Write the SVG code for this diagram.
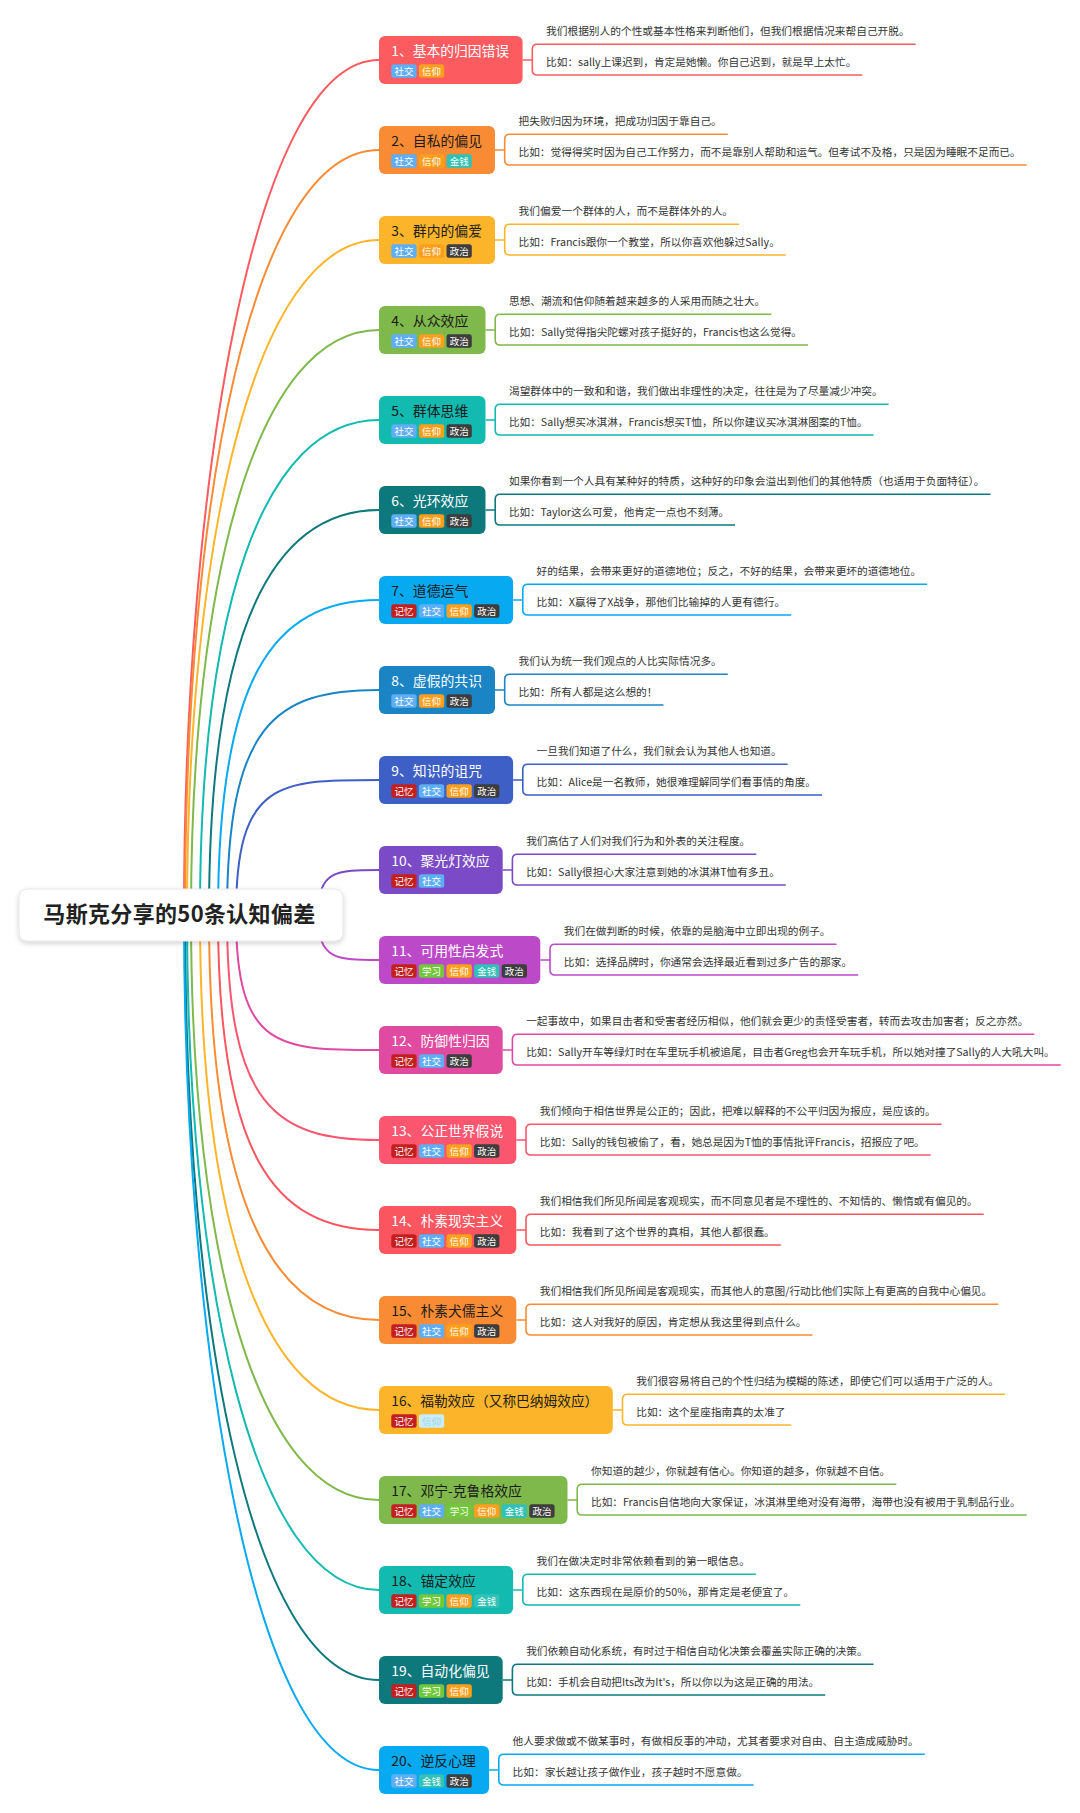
<svg xmlns="http://www.w3.org/2000/svg" width="1080" height="1813" viewBox="0 0 1080 1813">
<defs>
<filter id="sh" x="-10%" y="-30%" width="120%" height="180%">
<feDropShadow dx="0" dy="2" stdDeviation="2.5" flood-color="#000" flood-opacity="0.18"/>
</filter>
<style>
text{font-family:"Noto Sans CJK SC","Noto Sans",sans-serif;}
.t{font-size:13.6px;fill:#fff;}
.k{fill:#1b1b1b;}
.d{font-size:10.5px;fill:#333;}
.g{font-size:9.5px;fill:#fff;text-anchor:middle;}
.cv{fill:none;stroke-width:2;}
.br{fill:none;stroke-width:1.6;}
.mem{fill:#c41f1f;}.soc{fill:#5eaef5;}.bel{fill:#fd9f1c;}.mon{fill:#31c1b6;}.pol{fill:#3d3d3d;}.lea{fill:#72c73b;}.pal{fill:#c9edf7;}
</style>
</defs>
<rect width="1080" height="1813" fill="#fff"/>
<g id="connectors">
<path class="cv" stroke="#fc5b60" d="M184,915 C184,487 253,60 379,60"/>
<path class="cv" stroke="#f98b34" d="M185,915 C185,494 253,150 379,150"/>
<path class="cv" stroke="#fcb52b" d="M187,915 C187,544 254,240 379,240"/>
<path class="cv" stroke="#7fb84b" d="M191,915 C191,576 257,330 379,330"/>
<path class="cv" stroke="#12bab0" d="M200,915 C200,608 263,420 379,420"/>
<path class="cv" stroke="#0e797d" d="M209,915 C209,640 268,510 379,510"/>
<path class="cv" stroke="#07a9f1" d="M218,915 C218,679 272,600 379,600"/>
<path class="cv" stroke="#1a84c5" d="M227,915 C227,724 275,690 379,690"/>
<path class="cv" stroke="#3e5fc5" d="M236,915 C236,780 279,780 379,780"/>
<path class="cv" stroke="#7b4ac6" d="M318,915 C318,870 336.3,870 379,870"/>
<path class="cv" stroke="#bc4ac8" d="M318,915 C318,960 336.3,960 379,960"/>
<path class="cv" stroke="#e04aa0" d="M236,915 C236,1050 279,1050 379,1050"/>
<path class="cv" stroke="#fb566f" d="M227,915 C227,1106 275,1140 379,1140"/>
<path class="cv" stroke="#fb5560" d="M218,915 C218,1151 272,1230 379,1230"/>
<path class="cv" stroke="#f98b34" d="M209,915 C209,1190 268,1320 379,1320"/>
<path class="cv" stroke="#fcb52b" d="M200,915 C200,1222 263,1410 379,1410"/>
<path class="cv" stroke="#7fb84b" d="M191,915 C191,1254 257,1500 379,1500"/>
<path class="cv" stroke="#12bab0" d="M187,915 C187,1286 254,1590 379,1590"/>
<path class="cv" stroke="#0e797d" d="M185,915 C185,1336 253,1680 379,1680"/>
<path class="cv" stroke="#07a9f1" d="M184,915 C184,1343 253,1770 379,1770"/>

<path class="br" stroke="#fc5b60" d="M522.6,60 H532.3 M915.7,44.3 H537.3 Q532.3,44.3 532.3,49.3 V70 Q532.3,75 537.3,75 H862.3"/>
<path class="br" stroke="#f98b34" d="M495,150 H504.7 M727.8,134.3 H509.7 Q504.7,134.3 504.7,139.3 V160 Q504.7,165 509.7,165 H1026.7"/>
<path class="br" stroke="#fcb52b" d="M495,240 H504.7 M739.1,224.3 H509.7 Q504.7,224.3 504.7,229.3 V250 Q504.7,255 509.7,255 H785.8"/>
<path class="br" stroke="#7fb84b" d="M485.5,330 H495.2 M771.3,314.3 H500.2 Q495.2,314.3 495.2,319.3 V340 Q495.2,345 500.2,345 H808"/>
<path class="br" stroke="#12bab0" d="M485.5,420 H495.2 M888.6,404.3 H500.2 Q495.2,404.3 495.2,409.3 V430 Q495.2,435 500.2,435 H873.6"/>
<path class="br" stroke="#0e797d" d="M485.5,510 H495.2 M990.5,494.3 H500.2 Q495.2,494.3 495.2,499.3 V520 Q495.2,525 500.2,525 H735"/>
<path class="br" stroke="#07a9f1" d="M513.1,600 H522.8 M927.1,584.3 H527.8 Q522.8,584.3 522.8,589.3 V610 Q522.8,615 527.8,615 H791.2"/>
<path class="br" stroke="#1a84c5" d="M495,690 H504.7 M727.8,674.3 H509.7 Q504.7,674.3 504.7,679.3 V700 Q504.7,705 509.7,705 H663.5"/>
<path class="br" stroke="#3e5fc5" d="M513.1,780 H522.8 M787.6,764.3 H527.8 Q522.8,764.3 522.8,769.3 V790 Q522.8,795 527.8,795 H822"/>
<path class="br" stroke="#7b4ac6" d="M502.7,870 H512.4 M756.3,854.3 H517.4 Q512.4,854.3 512.4,859.3 V880 Q512.4,885 517.4,885 H785.8"/>
<path class="br" stroke="#bc4ac8" d="M540.3,960 H550 M836.5,944.3 H555 Q550,944.3 550,949.3 V970 Q550,975 555,975 H858.2"/>
<path class="br" stroke="#e04aa0" d="M502.7,1050 H512.4 M1034.4,1034.3 H517.4 Q512.4,1034.3 512.4,1039.3 V1060 Q512.4,1065 517.4,1065 H1060.7"/>
<path class="br" stroke="#fb566f" d="M516.3,1140 H526 M941.6,1124.3 H531 Q526,1124.3 526,1129.3 V1150 Q526,1155 531,1155 H930.7"/>
<path class="br" stroke="#fb5560" d="M516.3,1230 H526 M983.7,1214.3 H531 Q526,1214.3 526,1219.3 V1240 Q526,1245 531,1245 H780.8"/>
<path class="br" stroke="#f98b34" d="M516.3,1320 H526 M998.2,1304.3 H531 Q526,1304.3 526,1309.3 V1330 Q526,1335 531,1335 H812.5"/>
<path class="br" stroke="#fcb52b" d="M612.8,1410 H622.5 M1005,1394.3 H627.5 Q622.5,1394.3 622.5,1399.3 V1420 Q622.5,1425 627.5,1425 H791.2"/>
<path class="br" stroke="#7fb84b" d="M567.5,1500 H577.2 M896.3,1484.3 H582.2 Q577.2,1484.3 577.2,1489.3 V1510 Q577.2,1515 582.2,1515 H1026.7"/>
<path class="br" stroke="#12bab0" d="M513.1,1590 H522.8 M755.9,1574.3 H527.8 Q522.8,1574.3 522.8,1579.3 V1600 Q522.8,1605 527.8,1605 H800.3"/>
<path class="br" stroke="#0e797d" d="M502.7,1680 H512.4 M873.6,1664.3 H517.4 Q512.4,1664.3 512.4,1669.3 V1690 Q512.4,1695 517.4,1695 H825.2"/>
<path class="br" stroke="#07a9f1" d="M489.1,1770 H498.8 M924.8,1754.3 H503.8 Q498.8,1754.3 498.8,1759.3 V1780 Q498.8,1785 503.8,1785 H753.6"/>
</g>

<g id="root">
<rect x="19" y="889" width="324" height="52" rx="8" fill="#fff" stroke="#e6e6e6" stroke-width="1" filter="url(#sh)"/>
<text x="43.3" y="922" font-size="22" font-weight="bold" fill="#222" textLength="272" lengthAdjust="spacing">马斯克分享的50条认知偏差</text>
</g>

<g id="n1">
<rect x="379" y="36" width="143.6" height="48" rx="6" fill="#fc5b60"/>
<text class="t" x="391.3" y="55.7" textLength="117.8" lengthAdjust="spacingAndGlyphs">1、基本的归因错误</text>
<rect class="soc" x="391.3" y="64.3" width="25.3" height="13.4" rx="2.5"/><text class="g" x="403.95" y="74.8" textLength="19" lengthAdjust="spacingAndGlyphs">社交</text>
<rect class="bel" x="418.9" y="64.3" width="25.3" height="13.4" rx="2.5"/><text class="g" x="431.55" y="74.8" textLength="19" lengthAdjust="spacingAndGlyphs">信仰</text>
<text class="d" x="546.1" y="35" textLength="363.6" lengthAdjust="spacingAndGlyphs">我们根据别人的个性或基本性格来判断他们，但我们根据情况来帮自己开脱。</text>
<text class="d" x="546.1" y="66.2" textLength="310.2" lengthAdjust="spacingAndGlyphs">比如：sally上课迟到，肯定是她懒。你自己迟到，就是早上太忙。</text>
</g>

<g id="n2">
<rect x="379" y="126" width="116" height="48" rx="6" fill="#f98b34"/>
<text class="t k" x="391.3" y="145.7" textLength="90.7" lengthAdjust="spacingAndGlyphs">2、自私的偏见</text>
<rect class="soc" x="391.3" y="154.3" width="25.3" height="13.4" rx="2.5"/><text class="g" x="403.95" y="164.8" textLength="19" lengthAdjust="spacingAndGlyphs">社交</text>
<rect class="bel" x="418.9" y="154.3" width="25.3" height="13.4" rx="2.5"/><text class="g" x="431.55" y="164.8" textLength="19" lengthAdjust="spacingAndGlyphs">信仰</text>
<rect class="mon" x="446.5" y="154.3" width="25.3" height="13.4" rx="2.5"/><text class="g" x="459.15" y="164.8" textLength="19" lengthAdjust="spacingAndGlyphs">金钱</text>
<text class="d" x="518.5" y="125" textLength="203.3" lengthAdjust="spacingAndGlyphs">把失败归因为环境，把成功归因于靠自己。</text>
<text class="d" x="518.5" y="156.2" textLength="502.2" lengthAdjust="spacingAndGlyphs">比如：觉得得奖时因为自己工作努力，而不是靠别人帮助和运气。但考试不及格，只是因为睡眠不足而已。</text>
</g>

<g id="n3">
<rect x="379" y="216" width="116" height="48" rx="6" fill="#fcb52b"/>
<text class="t k" x="391.3" y="235.7" textLength="90.7" lengthAdjust="spacingAndGlyphs">3、群内的偏爱</text>
<rect class="soc" x="391.3" y="244.3" width="25.3" height="13.4" rx="2.5"/><text class="g" x="403.95" y="254.8" textLength="19" lengthAdjust="spacingAndGlyphs">社交</text>
<rect class="bel" x="418.9" y="244.3" width="25.3" height="13.4" rx="2.5"/><text class="g" x="431.55" y="254.8" textLength="19" lengthAdjust="spacingAndGlyphs">信仰</text>
<rect class="pol" x="446.5" y="244.3" width="25.3" height="13.4" rx="2.5"/><text class="g" x="459.15" y="254.8" textLength="19" lengthAdjust="spacingAndGlyphs">政治</text>
<text class="d" x="518.5" y="215" textLength="214.6" lengthAdjust="spacingAndGlyphs">我们偏爱一个群体的人，而不是群体外的人。</text>
<text class="d" x="518.5" y="246.2" textLength="261.3" lengthAdjust="spacingAndGlyphs">比如：Francis跟你一个教堂，所以你喜欢他躲过Sally。</text>
</g>

<g id="n4">
<rect x="379" y="306" width="106.5" height="48" rx="6" fill="#7fb84b"/>
<text class="t k" x="391.3" y="325.7" textLength="77" lengthAdjust="spacingAndGlyphs">4、从众效应</text>
<rect class="soc" x="391.3" y="334.3" width="25.3" height="13.4" rx="2.5"/><text class="g" x="403.95" y="344.8" textLength="19" lengthAdjust="spacingAndGlyphs">社交</text>
<rect class="bel" x="418.9" y="334.3" width="25.3" height="13.4" rx="2.5"/><text class="g" x="431.55" y="344.8" textLength="19" lengthAdjust="spacingAndGlyphs">信仰</text>
<rect class="pol" x="446.5" y="334.3" width="25.3" height="13.4" rx="2.5"/><text class="g" x="459.15" y="344.8" textLength="19" lengthAdjust="spacingAndGlyphs">政治</text>
<text class="d" x="509" y="305" textLength="256.3" lengthAdjust="spacingAndGlyphs">思想、潮流和信仰随着越来越多的人采用而随之壮大。</text>
<text class="d" x="509" y="336.2" textLength="293" lengthAdjust="spacingAndGlyphs">比如：Sally觉得指尖陀螺对孩子挺好的，Francis也这么觉得。</text>
</g>

<g id="n5">
<rect x="379" y="396" width="106.5" height="48" rx="6" fill="#12bab0"/>
<text class="t k" x="391.3" y="415.7" textLength="77" lengthAdjust="spacingAndGlyphs">5、群体思维</text>
<rect class="soc" x="391.3" y="424.3" width="25.3" height="13.4" rx="2.5"/><text class="g" x="403.95" y="434.8" textLength="19" lengthAdjust="spacingAndGlyphs">社交</text>
<rect class="bel" x="418.9" y="424.3" width="25.3" height="13.4" rx="2.5"/><text class="g" x="431.55" y="434.8" textLength="19" lengthAdjust="spacingAndGlyphs">信仰</text>
<rect class="pol" x="446.5" y="424.3" width="25.3" height="13.4" rx="2.5"/><text class="g" x="459.15" y="434.8" textLength="19" lengthAdjust="spacingAndGlyphs">政治</text>
<text class="d" x="509" y="395" textLength="373.6" lengthAdjust="spacingAndGlyphs">渴望群体中的一致和和谐，我们做出非理性的决定，往往是为了尽量减少冲突。</text>
<text class="d" x="509" y="426.2" textLength="358.6" lengthAdjust="spacingAndGlyphs">比如：Sally想买冰淇淋，Francis想买T恤，所以你建议买冰淇淋图案的T恤。</text>
</g>

<g id="n6">
<rect x="379" y="486" width="106.5" height="48" rx="6" fill="#0e797d"/>
<text class="t" x="391.3" y="505.7" textLength="77" lengthAdjust="spacingAndGlyphs">6、光环效应</text>
<rect class="soc" x="391.3" y="514.3" width="25.3" height="13.4" rx="2.5"/><text class="g" x="403.95" y="524.8" textLength="19" lengthAdjust="spacingAndGlyphs">社交</text>
<rect class="bel" x="418.9" y="514.3" width="25.3" height="13.4" rx="2.5"/><text class="g" x="431.55" y="524.8" textLength="19" lengthAdjust="spacingAndGlyphs">信仰</text>
<rect class="pol" x="446.5" y="514.3" width="25.3" height="13.4" rx="2.5"/><text class="g" x="459.15" y="524.8" textLength="19" lengthAdjust="spacingAndGlyphs">政治</text>
<text class="d" x="509" y="485" textLength="475.5" lengthAdjust="spacingAndGlyphs">如果你看到一个人具有某种好的特质，这种好的印象会溢出到他们的其他特质（也适用于负面特征）。</text>
<text class="d" x="509" y="516.2" textLength="220" lengthAdjust="spacingAndGlyphs">比如：Taylor这么可爱，他肯定一点也不刻薄。</text>
</g>

<g id="n7">
<rect x="379" y="576" width="134.1" height="48" rx="6" fill="#07a9f1"/>
<text class="t k" x="391.3" y="595.7" textLength="77" lengthAdjust="spacingAndGlyphs">7、道德运气</text>
<rect class="mem" x="391.3" y="604.3" width="25.3" height="13.4" rx="2.5"/><text class="g" x="403.95" y="614.8" textLength="19" lengthAdjust="spacingAndGlyphs">记忆</text>
<rect class="soc" x="418.9" y="604.3" width="25.3" height="13.4" rx="2.5"/><text class="g" x="431.55" y="614.8" textLength="19" lengthAdjust="spacingAndGlyphs">社交</text>
<rect class="bel" x="446.5" y="604.3" width="25.3" height="13.4" rx="2.5"/><text class="g" x="459.15" y="614.8" textLength="19" lengthAdjust="spacingAndGlyphs">信仰</text>
<rect class="pol" x="474.1" y="604.3" width="25.3" height="13.4" rx="2.5"/><text class="g" x="486.75" y="614.8" textLength="19" lengthAdjust="spacingAndGlyphs">政治</text>
<text class="d" x="536.6" y="575" textLength="384.5" lengthAdjust="spacingAndGlyphs">好的结果，会带来更好的道德地位；反之，不好的结果，会带来更坏的道德地位。</text>
<text class="d" x="536.6" y="606.2" textLength="248.6" lengthAdjust="spacingAndGlyphs">比如：X赢得了X战争，那他们比输掉的人更有德行。</text>
</g>

<g id="n8">
<rect x="379" y="666" width="116" height="48" rx="6" fill="#1a84c5"/>
<text class="t" x="391.3" y="685.7" textLength="90.7" lengthAdjust="spacingAndGlyphs">8、虚假的共识</text>
<rect class="soc" x="391.3" y="694.3" width="25.3" height="13.4" rx="2.5"/><text class="g" x="403.95" y="704.8" textLength="19" lengthAdjust="spacingAndGlyphs">社交</text>
<rect class="bel" x="418.9" y="694.3" width="25.3" height="13.4" rx="2.5"/><text class="g" x="431.55" y="704.8" textLength="19" lengthAdjust="spacingAndGlyphs">信仰</text>
<rect class="pol" x="446.5" y="694.3" width="25.3" height="13.4" rx="2.5"/><text class="g" x="459.15" y="704.8" textLength="19" lengthAdjust="spacingAndGlyphs">政治</text>
<text class="d" x="518.5" y="665" textLength="203.3" lengthAdjust="spacingAndGlyphs">我们认为统一我们观点的人比实际情况多。</text>
<text class="d" x="518.5" y="696.2" textLength="139" lengthAdjust="spacingAndGlyphs">比如：所有人都是这么想的！</text>
</g>

<g id="n9">
<rect x="379" y="756" width="134.1" height="48" rx="6" fill="#3e5fc5"/>
<text class="t" x="391.3" y="775.7" textLength="90.7" lengthAdjust="spacingAndGlyphs">9、知识的诅咒</text>
<rect class="mem" x="391.3" y="784.3" width="25.3" height="13.4" rx="2.5"/><text class="g" x="403.95" y="794.8" textLength="19" lengthAdjust="spacingAndGlyphs">记忆</text>
<rect class="soc" x="418.9" y="784.3" width="25.3" height="13.4" rx="2.5"/><text class="g" x="431.55" y="794.8" textLength="19" lengthAdjust="spacingAndGlyphs">社交</text>
<rect class="bel" x="446.5" y="784.3" width="25.3" height="13.4" rx="2.5"/><text class="g" x="459.15" y="794.8" textLength="19" lengthAdjust="spacingAndGlyphs">信仰</text>
<rect class="pol" x="474.1" y="784.3" width="25.3" height="13.4" rx="2.5"/><text class="g" x="486.75" y="794.8" textLength="19" lengthAdjust="spacingAndGlyphs">政治</text>
<text class="d" x="536.6" y="755" textLength="245" lengthAdjust="spacingAndGlyphs">一旦我们知道了什么，我们就会认为其他人也知道。</text>
<text class="d" x="536.6" y="786.2" textLength="279.4" lengthAdjust="spacingAndGlyphs">比如：Alice是一名教师，她很难理解同学们看事情的角度。</text>
</g>

<g id="n10">
<rect x="379" y="846" width="123.7" height="48" rx="6" fill="#7b4ac6"/>
<text class="t" x="391.3" y="865.7" textLength="98.4" lengthAdjust="spacingAndGlyphs">10、聚光灯效应</text>
<rect class="mem" x="391.3" y="874.3" width="25.3" height="13.4" rx="2.5"/><text class="g" x="403.95" y="884.8" textLength="19" lengthAdjust="spacingAndGlyphs">记忆</text>
<rect class="soc" x="418.9" y="874.3" width="25.3" height="13.4" rx="2.5"/><text class="g" x="431.55" y="884.8" textLength="19" lengthAdjust="spacingAndGlyphs">社交</text>
<text class="d" x="526.2" y="845" textLength="224.1" lengthAdjust="spacingAndGlyphs">我们高估了人们对我们行为和外表的关注程度。</text>
<text class="d" x="526.2" y="876.2" textLength="253.6" lengthAdjust="spacingAndGlyphs">比如：Sally很担心大家注意到她的冰淇淋T恤有多丑。</text>
</g>

<g id="n11">
<rect x="379" y="936" width="161.3" height="48" rx="6" fill="#bc4ac8"/>
<text class="t" x="391.3" y="955.7" textLength="111.9" lengthAdjust="spacingAndGlyphs">11、可用性启发式</text>
<rect class="mem" x="391.3" y="964.3" width="25.3" height="13.4" rx="2.5"/><text class="g" x="403.95" y="974.8" textLength="19" lengthAdjust="spacingAndGlyphs">记忆</text>
<rect class="lea" x="418.9" y="964.3" width="25.3" height="13.4" rx="2.5"/><text class="g" x="431.55" y="974.8" textLength="19" lengthAdjust="spacingAndGlyphs">学习</text>
<rect class="bel" x="446.5" y="964.3" width="25.3" height="13.4" rx="2.5"/><text class="g" x="459.15" y="974.8" textLength="19" lengthAdjust="spacingAndGlyphs">信仰</text>
<rect class="mon" x="474.1" y="964.3" width="25.3" height="13.4" rx="2.5"/><text class="g" x="486.75" y="974.8" textLength="19" lengthAdjust="spacingAndGlyphs">金钱</text>
<rect class="pol" x="501.7" y="964.3" width="25.3" height="13.4" rx="2.5"/><text class="g" x="514.35" y="974.8" textLength="19" lengthAdjust="spacingAndGlyphs">政治</text>
<text class="d" x="563.8" y="935" textLength="266.7" lengthAdjust="spacingAndGlyphs">我们在做判断的时候，依靠的是脑海中立即出现的例子。</text>
<text class="d" x="563.8" y="966.2" textLength="288.4" lengthAdjust="spacingAndGlyphs">比如：选择品牌时，你通常会选择最近看到过多广告的那家。</text>
</g>

<g id="n12">
<rect x="379" y="1026" width="123.7" height="48" rx="6" fill="#e04aa0"/>
<text class="t" x="391.3" y="1045.7" textLength="98.4" lengthAdjust="spacingAndGlyphs">12、防御性归因</text>
<rect class="mem" x="391.3" y="1054.3" width="25.3" height="13.4" rx="2.5"/><text class="g" x="403.95" y="1064.8" textLength="19" lengthAdjust="spacingAndGlyphs">记忆</text>
<rect class="soc" x="418.9" y="1054.3" width="25.3" height="13.4" rx="2.5"/><text class="g" x="431.55" y="1064.8" textLength="19" lengthAdjust="spacingAndGlyphs">社交</text>
<rect class="pol" x="446.5" y="1054.3" width="25.3" height="13.4" rx="2.5"/><text class="g" x="459.15" y="1064.8" textLength="19" lengthAdjust="spacingAndGlyphs">政治</text>
<text class="d" x="526.2" y="1025" textLength="502.2" lengthAdjust="spacingAndGlyphs">一起事故中，如果目击者和受害者经历相似，他们就会更少的责怪受害者，转而去攻击加害者；反之亦然。</text>
<text class="d" x="526.2" y="1056.2" textLength="528.5" lengthAdjust="spacingAndGlyphs">比如：Sally开车等绿灯时在车里玩手机被追尾，目击者Greg也会开车玩手机，所以她对撞了Sally的人大吼大叫。</text>
</g>

<g id="n13">
<rect x="379" y="1116" width="137.3" height="48" rx="6" fill="#fb566f"/>
<text class="t" x="391.3" y="1135.7" textLength="111.9" lengthAdjust="spacingAndGlyphs">13、公正世界假说</text>
<rect class="mem" x="391.3" y="1144.3" width="25.3" height="13.4" rx="2.5"/><text class="g" x="403.95" y="1154.8" textLength="19" lengthAdjust="spacingAndGlyphs">记忆</text>
<rect class="soc" x="418.9" y="1144.3" width="25.3" height="13.4" rx="2.5"/><text class="g" x="431.55" y="1154.8" textLength="19" lengthAdjust="spacingAndGlyphs">社交</text>
<rect class="bel" x="446.5" y="1144.3" width="25.3" height="13.4" rx="2.5"/><text class="g" x="459.15" y="1154.8" textLength="19" lengthAdjust="spacingAndGlyphs">信仰</text>
<rect class="pol" x="474.1" y="1144.3" width="25.3" height="13.4" rx="2.5"/><text class="g" x="486.75" y="1154.8" textLength="19" lengthAdjust="spacingAndGlyphs">政治</text>
<text class="d" x="539.8" y="1115" textLength="395.8" lengthAdjust="spacingAndGlyphs">我们倾向于相信世界是公正的；因此，把难以解释的不公平归因为报应，是应该的。</text>
<text class="d" x="539.8" y="1146.2" textLength="384.9" lengthAdjust="spacingAndGlyphs">比如：Sally的钱包被偷了，看，她总是因为T恤的事情批评Francis，招报应了吧。</text>
</g>

<g id="n14">
<rect x="379" y="1206" width="137.3" height="48" rx="6" fill="#fb5560"/>
<text class="t" x="391.3" y="1225.7" textLength="111.9" lengthAdjust="spacingAndGlyphs">14、朴素现实主义</text>
<rect class="mem" x="391.3" y="1234.3" width="25.3" height="13.4" rx="2.5"/><text class="g" x="403.95" y="1244.8" textLength="19" lengthAdjust="spacingAndGlyphs">记忆</text>
<rect class="soc" x="418.9" y="1234.3" width="25.3" height="13.4" rx="2.5"/><text class="g" x="431.55" y="1244.8" textLength="19" lengthAdjust="spacingAndGlyphs">社交</text>
<rect class="bel" x="446.5" y="1234.3" width="25.3" height="13.4" rx="2.5"/><text class="g" x="459.15" y="1244.8" textLength="19" lengthAdjust="spacingAndGlyphs">信仰</text>
<rect class="pol" x="474.1" y="1234.3" width="25.3" height="13.4" rx="2.5"/><text class="g" x="486.75" y="1244.8" textLength="19" lengthAdjust="spacingAndGlyphs">政治</text>
<text class="d" x="539.8" y="1205" textLength="437.9" lengthAdjust="spacingAndGlyphs">我们相信我们所见所闻是客观现实，而不同意见者是不理性的、不知情的、懒惰或有偏见的。</text>
<text class="d" x="539.8" y="1236.2" textLength="235" lengthAdjust="spacingAndGlyphs">比如：我看到了这个世界的真相，其他人都很蠢。</text>
</g>

<g id="n15">
<rect x="379" y="1296" width="137.3" height="48" rx="6" fill="#f98b34"/>
<text class="t k" x="391.3" y="1315.7" textLength="111.9" lengthAdjust="spacingAndGlyphs">15、朴素犬儒主义</text>
<rect class="mem" x="391.3" y="1324.3" width="25.3" height="13.4" rx="2.5"/><text class="g" x="403.95" y="1334.8" textLength="19" lengthAdjust="spacingAndGlyphs">记忆</text>
<rect class="soc" x="418.9" y="1324.3" width="25.3" height="13.4" rx="2.5"/><text class="g" x="431.55" y="1334.8" textLength="19" lengthAdjust="spacingAndGlyphs">社交</text>
<rect class="bel" x="446.5" y="1324.3" width="25.3" height="13.4" rx="2.5"/><text class="g" x="459.15" y="1334.8" textLength="19" lengthAdjust="spacingAndGlyphs">信仰</text>
<rect class="pol" x="474.1" y="1324.3" width="25.3" height="13.4" rx="2.5"/><text class="g" x="486.75" y="1334.8" textLength="19" lengthAdjust="spacingAndGlyphs">政治</text>
<text class="d" x="539.8" y="1295" textLength="452.4" lengthAdjust="spacingAndGlyphs">我们相信我们所见所闻是客观现实，而其他人的意图/行动比他们实际上有更高的自我中心偏见。</text>
<text class="d" x="539.8" y="1326.2" textLength="266.7" lengthAdjust="spacingAndGlyphs">比如：这人对我好的原因，肯定想从我这里得到点什么。</text>
</g>

<g id="n16">
<rect x="379" y="1386" width="233.8" height="48" rx="6" fill="#fcb52b"/>
<text class="t k" x="391.3" y="1405.7" textLength="207" lengthAdjust="spacingAndGlyphs">16、福勒效应（又称巴纳姆效应）</text>
<rect class="mem" x="391.3" y="1414.3" width="25.3" height="13.4" rx="2.5"/><text class="g" x="403.95" y="1424.8" textLength="19" lengthAdjust="spacingAndGlyphs">记忆</text>
<rect class="pal" x="418.9" y="1414.3" width="25.3" height="13.4" rx="2.5"/><text class="g" x="431.55" y="1424.8" textLength="19" lengthAdjust="spacingAndGlyphs" style="fill:#9fd3e6">信仰</text>
<text class="d" x="636.3" y="1385" textLength="362.7" lengthAdjust="spacingAndGlyphs">我们很容易将自己的个性归结为模糊的陈述，即使它们可以适用于广泛的人。</text>
<text class="d" x="636.3" y="1416.2" textLength="149.2" lengthAdjust="spacingAndGlyphs">比如：这个星座指南真的太准了</text>
</g>

<g id="n17">
<rect x="379" y="1476" width="188.5" height="48" rx="6" fill="#7fb84b"/>
<text class="t k" x="391.3" y="1495.7" textLength="130.5" lengthAdjust="spacingAndGlyphs">17、邓宁-克鲁格效应</text>
<rect class="mem" x="391.3" y="1504.3" width="25.3" height="13.4" rx="2.5"/><text class="g" x="403.95" y="1514.8" textLength="19" lengthAdjust="spacingAndGlyphs">记忆</text>
<rect class="soc" x="418.9" y="1504.3" width="25.3" height="13.4" rx="2.5"/><text class="g" x="431.55" y="1514.8" textLength="19" lengthAdjust="spacingAndGlyphs">社交</text>
<rect class="lea" x="446.5" y="1504.3" width="25.3" height="13.4" rx="2.5"/><text class="g" x="459.15" y="1514.8" textLength="19" lengthAdjust="spacingAndGlyphs">学习</text>
<rect class="bel" x="474.1" y="1504.3" width="25.3" height="13.4" rx="2.5"/><text class="g" x="486.75" y="1514.8" textLength="19" lengthAdjust="spacingAndGlyphs">信仰</text>
<rect class="mon" x="501.7" y="1504.3" width="25.3" height="13.4" rx="2.5"/><text class="g" x="514.35" y="1514.8" textLength="19" lengthAdjust="spacingAndGlyphs">金钱</text>
<rect class="pol" x="529.3" y="1504.3" width="25.3" height="13.4" rx="2.5"/><text class="g" x="541.95" y="1514.8" textLength="19" lengthAdjust="spacingAndGlyphs">政治</text>
<text class="d" x="591" y="1475" textLength="299.3" lengthAdjust="spacingAndGlyphs">你知道的越少，你就越有信心。你知道的越多，你就越不自信。</text>
<text class="d" x="591" y="1506.2" textLength="429.7" lengthAdjust="spacingAndGlyphs">比如：Francis自信地向大家保证，冰淇淋里绝对没有海带，海带也没有被用于乳制品行业。</text>
</g>

<g id="n18">
<rect x="379" y="1566" width="134.1" height="48" rx="6" fill="#12bab0"/>
<text class="t k" x="391.3" y="1585.7" textLength="84.5" lengthAdjust="spacingAndGlyphs">18、锚定效应</text>
<rect class="mem" x="391.3" y="1594.3" width="25.3" height="13.4" rx="2.5"/><text class="g" x="403.95" y="1604.8" textLength="19" lengthAdjust="spacingAndGlyphs">记忆</text>
<rect class="lea" x="418.9" y="1594.3" width="25.3" height="13.4" rx="2.5"/><text class="g" x="431.55" y="1604.8" textLength="19" lengthAdjust="spacingAndGlyphs">学习</text>
<rect class="bel" x="446.5" y="1594.3" width="25.3" height="13.4" rx="2.5"/><text class="g" x="459.15" y="1604.8" textLength="19" lengthAdjust="spacingAndGlyphs">信仰</text>
<rect class="mon" x="474.1" y="1594.3" width="25.3" height="13.4" rx="2.5"/><text class="g" x="486.75" y="1604.8" textLength="19" lengthAdjust="spacingAndGlyphs">金钱</text>
<text class="d" x="536.6" y="1565" textLength="213.3" lengthAdjust="spacingAndGlyphs">我们在做决定时非常依赖看到的第一眼信息。</text>
<text class="d" x="536.6" y="1596.2" textLength="257.7" lengthAdjust="spacingAndGlyphs">比如：这东西现在是原价的50%，那肯定是老便宜了。</text>
</g>

<g id="n19">
<rect x="379" y="1656" width="123.7" height="48" rx="6" fill="#0e797d"/>
<text class="t" x="391.3" y="1675.7" textLength="98.4" lengthAdjust="spacingAndGlyphs">19、自动化偏见</text>
<rect class="mem" x="391.3" y="1684.3" width="25.3" height="13.4" rx="2.5"/><text class="g" x="403.95" y="1694.8" textLength="19" lengthAdjust="spacingAndGlyphs">记忆</text>
<rect class="lea" x="418.9" y="1684.3" width="25.3" height="13.4" rx="2.5"/><text class="g" x="431.55" y="1694.8" textLength="19" lengthAdjust="spacingAndGlyphs">学习</text>
<rect class="bel" x="446.5" y="1684.3" width="25.3" height="13.4" rx="2.5"/><text class="g" x="459.15" y="1694.8" textLength="19" lengthAdjust="spacingAndGlyphs">信仰</text>
<text class="d" x="526.2" y="1655" textLength="341.4" lengthAdjust="spacingAndGlyphs">我们依赖自动化系统，有时过于相信自动化决策会覆盖实际正确的决策。</text>
<text class="d" x="526.2" y="1686.2" textLength="293" lengthAdjust="spacingAndGlyphs">比如：手机会自动把Its改为It's，所以你以为这是正确的用法。</text>
</g>

<g id="n20">
<rect x="379" y="1746" width="110.1" height="48" rx="6" fill="#07a9f1"/>
<text class="t k" x="391.3" y="1765.7" textLength="84.5" lengthAdjust="spacingAndGlyphs">20、逆反心理</text>
<rect class="soc" x="391.3" y="1774.3" width="25.3" height="13.4" rx="2.5"/><text class="g" x="403.95" y="1784.8" textLength="19" lengthAdjust="spacingAndGlyphs">社交</text>
<rect class="mon" x="418.9" y="1774.3" width="25.3" height="13.4" rx="2.5"/><text class="g" x="431.55" y="1784.8" textLength="19" lengthAdjust="spacingAndGlyphs">金钱</text>
<rect class="pol" x="446.5" y="1774.3" width="25.3" height="13.4" rx="2.5"/><text class="g" x="459.15" y="1784.8" textLength="19" lengthAdjust="spacingAndGlyphs">政治</text>
<text class="d" x="512.6" y="1745" textLength="406.2" lengthAdjust="spacingAndGlyphs">他人要求做或不做某事时，有做相反事的冲动，尤其者要求对自由、自主造成威胁时。</text>
<text class="d" x="512.6" y="1776.2" textLength="235" lengthAdjust="spacingAndGlyphs">比如：家长越让孩子做作业，孩子越时不愿意做。</text>
</g>
</svg>
